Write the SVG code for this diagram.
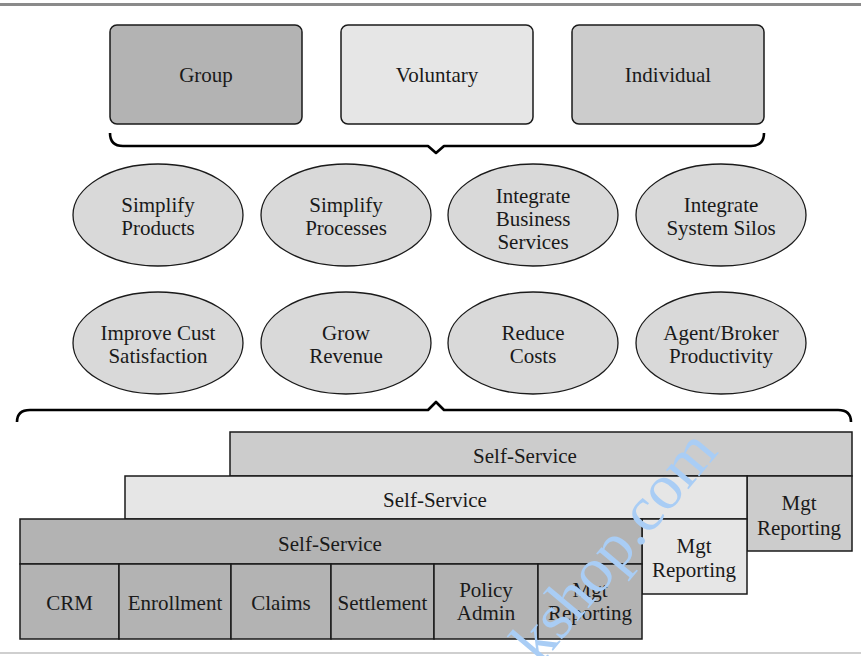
<svg xmlns="http://www.w3.org/2000/svg" width="861" height="656" viewBox="0 0 861 656">
<style>
text{font-family:"Liberation Serif","DejaVu Serif","Times New Roman",serif;font-size:21px;fill:#1a1a1a;text-anchor:middle}
.box{stroke:#1a1a1a;stroke-width:1.5}
.ell{fill:#d9d9d9;stroke:#1a1a1a;stroke-width:1.3}
.brace{fill:none;stroke:#000;stroke-width:2.6;stroke-linejoin:round}
.dark{fill:#b3b3b3}.mid{fill:#cccccc}.light{fill:#e6e6e6}
.wm{font-size:64px;fill:#a9cdf5;text-anchor:start}
</style>
<rect x="0" y="3" width="861" height="3" fill="#8a8a8a"/>
<rect x="0" y="652" width="861" height="2" fill="#cfcfcf"/>

<g id="group"><rect class="box dark" x="110" y="25" width="192" height="99" rx="7"/><text x="206" y="82">Group</text></g>
<g id="voluntary"><rect class="box light" x="341" y="25" width="192" height="99" rx="7"/><text x="437" y="82">Voluntary</text></g>
<g id="individual"><rect class="box mid" x="572" y="25" width="192" height="99" rx="7"/><text x="668" y="82">Individual</text></g>

<g id="connectors">
<path class="brace" d="M110,133 Q110,146 123,146 L428,146 L436,153 L444,146 L751,146 Q764,146 764,133"/>
<path class="brace" d="M17,422 Q17,410 30,410 L428,410 L436,402 L444,410 L838,410 Q851,410 851,422"/>
</g>

<g id="simplify-products"><ellipse class="ell" cx="158" cy="215" rx="85" ry="51"/><text x="158" y="212">Simplify</text><text x="158" y="235">Products</text></g>
<g id="simplify-processes"><ellipse class="ell" cx="346" cy="215" rx="85" ry="51"/><text x="346" y="212">Simplify</text><text x="346" y="235">Processes</text></g>
<g id="integrate-business"><ellipse class="ell" cx="533" cy="215" rx="85" ry="51"/><text x="533" y="203">Integrate</text><text x="533" y="226">Business</text><text x="533" y="249">Services</text></g>
<g id="integrate-silos"><ellipse class="ell" cx="721" cy="215" rx="85" ry="51"/><text x="721" y="212">Integrate</text><text x="721" y="235">System Silos</text></g>

<g id="improve-cust"><ellipse class="ell" cx="158" cy="343" rx="85" ry="51"/><text x="158" y="340">Improve Cust</text><text x="158" y="363">Satisfaction</text></g>
<g id="grow-revenue"><ellipse class="ell" cx="346" cy="343" rx="85" ry="51"/><text x="346" y="340">Grow</text><text x="346" y="363">Revenue</text></g>
<g id="reduce-costs"><ellipse class="ell" cx="533" cy="343" rx="85" ry="51"/><text x="533" y="340">Reduce</text><text x="533" y="363">Costs</text></g>
<g id="agent-broker"><ellipse class="ell" cx="721" cy="343" rx="85" ry="51"/><text x="721" y="340">Agent/Broker</text><text x="721" y="363">Productivity</text></g>

<g id="layer3">
<rect class="box mid" x="230" y="432" width="622" height="44"/><text x="525" y="463">Self-Service</text>
<rect class="box mid" x="747" y="476" width="105" height="75"/><text x="799" y="510">Mgt</text><text x="799" y="535">Reporting</text>
</g>
<g id="layer2">
<rect class="box light" x="125" y="476" width="622" height="43"/><text x="435" y="507">Self-Service</text>
<rect class="box light" x="642" y="519" width="105" height="75"/><text x="694" y="553">Mgt</text><text x="694" y="577">Reporting</text>
</g>
<g id="layer1">
<rect class="box dark" x="20" y="519" width="622" height="45"/><text x="330" y="551">Self-Service</text>
<rect class="box dark" x="20" y="564" width="99" height="75"/><text x="69.5" y="610">CRM</text>
<rect class="box dark" x="119" y="564" width="112" height="75"/><text x="175" y="610">Enrollment</text>
<rect class="box dark" x="231" y="564" width="100" height="75"/><text x="281" y="610">Claims</text>
<rect class="box dark" x="331" y="564" width="103" height="75"/><text x="382.5" y="610">Settlement</text>
<rect class="box dark" x="434" y="564" width="104" height="75"/><text x="486" y="597">Policy</text><text x="486" y="620">Admin</text>
<rect class="box dark" x="538" y="564" width="104" height="75"/><text x="590" y="597">Mgt</text><text x="590" y="620">Reporting</text>
</g>

<text class="wm" transform="translate(540,666) rotate(-50)">kshop.com</text>
</svg>
